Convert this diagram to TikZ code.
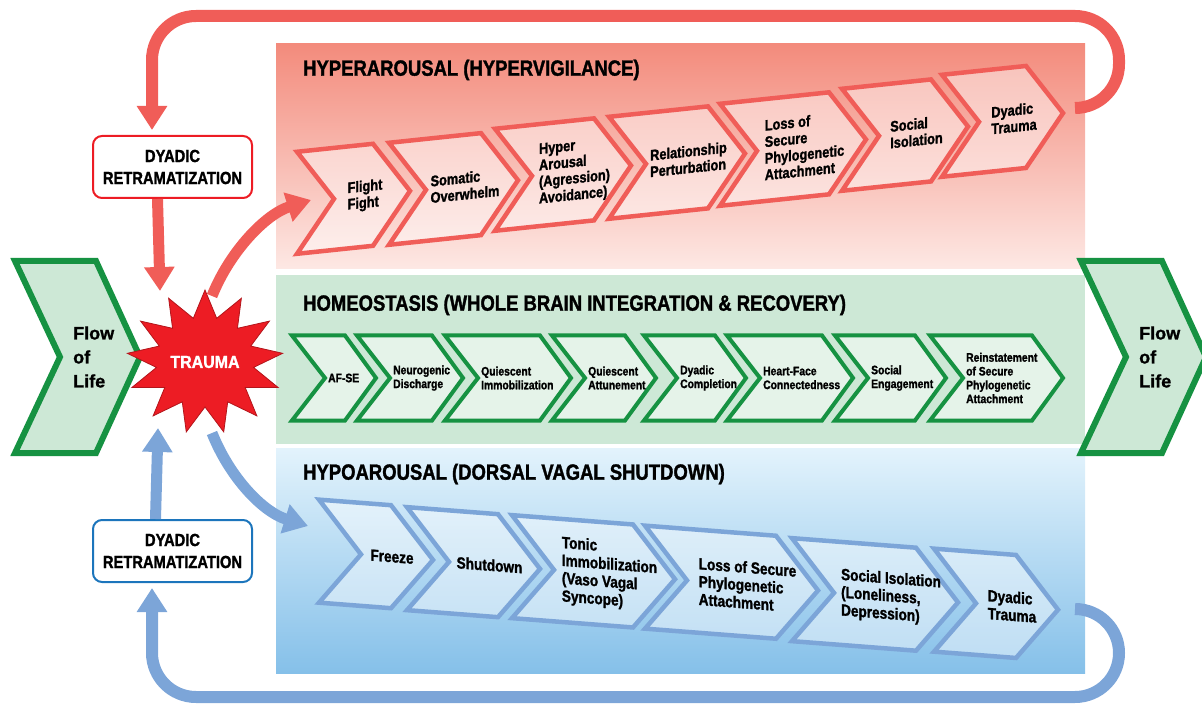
\documentclass[tikz,border=0pt]{standalone}
\usepackage{fontspec}
\setmainfont{Liberation Sans}
\newfontfamily\narrowfont{Liberation Sans}[UprightFont={* Bold}, FakeStretch=0.84, FakeBold=1.4]
\newfontfamily\flowfont{Liberation Sans}[UprightFont={* Bold}, FakeBold=1.2]
\usetikzlibrary{arrows.meta,shapes.geometric}

\definecolor{hyperred}{RGB}{240,93,88}
\definecolor{hypertop}{RGB}{243,139,124}
\definecolor{hyperbot}{RGB}{253,232,228}
\definecolor{homeogreen}{RGB}{22,146,66}
\definecolor{homeoband}{RGB}{205,232,214}
\definecolor{homeofill}{RGB}{229,243,233}
\definecolor{hypoblue}{RGB}{124,165,216}
\definecolor{hypotop}{RGB}{227,243,252}
\definecolor{hypobot}{RGB}{133,192,233}
\definecolor{traumared}{RGB}{237,28,36}
\definecolor{boxblue}{RGB}{28,117,188}

\tikzset{
  bandtitle/.style={anchor=west, inner sep=0pt, font=\narrowfont\fontsize{22}{24}\selectfont},
  hyperchev/.style={draw=hyperred, line width=4.5pt, fill=white, fill opacity=0.45},
  homeochev/.style={draw=homeogreen, line width=4pt, fill=homeofill},
  hypochev/.style={draw=hypoblue, line width=4.5pt, fill=white, fill opacity=0.45},
  hypertxt/.style={align=left, inner sep=0pt, transform shape, font=\narrowfont\fontsize{15.2}{16.5}\selectfont},
  homeotxt/.style={anchor=west, align=left, inner sep=0pt, font=\narrowfont\fontsize{12.3}{13.8}\selectfont},
  hypotxt/.style={align=left, inner sep=0pt, transform shape, font=\narrowfont\fontsize{16.2}{17.8}\selectfont},
  flowchev/.style={draw=homeogreen, line width=6pt, fill=homeoband},
  flowtxt/.style={anchor=west, align=left, inner sep=0pt, font=\flowfont\fontsize{18}{24}\selectfont},
  retrabox/.style={fill=white, line width=2pt, rounded corners=9pt, minimum width=159pt, minimum height=62pt,
    align=center, inner sep=0pt, font=\narrowfont\fontsize{17.5}{22}\selectfont},
  hyperarrow/.style={draw=hyperred, line width=11pt, -{Triangle[width=29pt,length=24pt]}},
  hypoarrow/.style={draw=hypoblue, line width=11pt, -{Triangle[width=29pt,length=24pt]}},
  hyperloop/.style={hyperarrow, line width=12pt, rounded corners=44pt},
  hypoloop/.style={hypoarrow, line width=12pt, rounded corners=44pt}
}

\begin{document}
\begin{tikzpicture}[x=1pt,y=-1pt]
\useasboundingbox (0,0) rectangle (1202,708);

% three bands
\shade[top color=hypertop, bottom color=hyperbot] (276,44) rectangle (1085,269);
\fill[homeoband] (276,275) rectangle (1085,444);
\shade[top color=hypotop, bottom color=hypobot] (276,448) rectangle (1085,673);

\node[bandtitle] (hyperT) at (303,70) {HYPERAROUSAL (HYPERVIGILANCE)};
\node[bandtitle] (homeoT) at (303,305) {HOMEOSTASIS (WHOLE BRAIN INTEGRATION \& RECOVERY)};
\node[bandtitle] (hypoT) at (303,474) {HYPOAROUSAL (DORSAL VAGAL SHUTDOWN)};

% hyperarousal chain
\foreach \x/\y/\w/\nm/\txt in {
    295/203/117/hyA/{Flight\\Fight},
    387/194/133/hyB/{Somatic\\Overwhelm},
    493/180/140/hyC/{Hyper\\Arousal\\(Agression)\\Avoidance)},
    607/168/140/hyD/{Relationship\\Perturbation},
    718/155/150/hyE/{Loss of\\Secure\\Phylogenetic\\Attachment},
    840/140/130/hyF/{Social\\Isolation},
    940/126/125/hyG/{Dyadic\\Trauma}}{
  \begin{scope}[shift={(\x,\y)}, yslant=0.105]
    \filldraw[hyperchev] (2,-51) -- ({\w-39},-51) -- ({\w-2},0) -- ({\w-39},51) -- (2,51) -- (39,0) -- cycle;
    \node[hypertxt] (\nm) at ({(37+\w)/2-7},0) {\txt};
  \end{scope}
}

% homeostasis chain
\foreach \x/\w/\nm/\txt in {
    290/88/hmA/{AF-SE},
    355/110/hmB/{Neurogenic\\Discharge},
    443/130/hmC/{Quiescent\\Immobilization},
    550/108/hmD/{Quiescent\\Attunement},
    642/106/hmE/{Dyadic\\Completion},
    725/130/hmF/{Heart-Face\\Connectedness},
    833/115/hmG/{Social\\Engagement},
    928/137/hmH/{Reinstatement\\of Secure\\Phylogenetic\\Attachment}}{
  \begin{scope}[shift={(\x,378)}]
    \filldraw[homeochev] (2,-42.5) -- ({\w-33},-42.5) -- ({\w-2},0) -- ({\w-33},42.5) -- (2,42.5) -- (35,0) -- cycle;
    \node[homeotxt] (\nm) at (38,0) {\txt};
  \end{scope}
}

% hypoarousal chain
\foreach \x/\y/\w/\nm/\txt in {
    317/551/118/hoA/{Freeze},
    405/558.5/137/hoB/{Shutdown},
    510/566.5/167/hoC/{Tonic\\Immobilization\\(Vaso Vagal\\Syncope)},
    643/577/177/hoD/{Loss of Secure\\Phylogenetic\\Attachment},
    790/589.5/170/hoE/{Social Isolation\\(Loneliness,\\Depression)},
    932/600/128/hoF/{Dyadic\\Trauma}}{
  \begin{scope}[shift={(\x,\y)}, yslant=-0.077]
    \filldraw[hypochev] (2,-51.5) -- ({\w-44},-51.5) -- ({\w-2},0) -- ({\w-44},51.5) -- (2,51.5) -- (44,0) -- cycle;
    \node[hypotxt] (\nm) at ({(42+\w)/2-5},0) {\txt};
  \end{scope}
}

% flow of life, both ends
\foreach \fx/\nm in {0/flowL,1066/flowR}{
  \filldraw[flowchev] ({\fx+15},261) -- ({\fx+96},261) -- ({\fx+140},357) -- ({\fx+96},453)
    -- ({\fx+15},453) -- ({\fx+60},357) -- cycle;
  \node[flowtxt] (\nm) at ({\fx+73},357) {Flow\\of\\Life};
}

% trauma and retraumatization
\node[star, star points=13, star point ratio=1.6, minimum size=116pt, inner sep=0pt, yscale=0.92,
  fill=traumared, draw=traumared!75!black, line width=0.8pt, text=white,
  font=\narrowfont\fontsize{19}{20}\selectfont] (trauma) at (205,362) {TRAUMA};
\node[retrabox, draw=traumared] (retraA) at (172.5,167) {DYADIC\\RETRAMATIZATION};
\node[retrabox, draw=boxblue] (retraB) at (172.5,551) {DYADIC\\RETRAMATIZATION};

\coordinate (hyin) at (311,200);
\coordinate (hoin) at (308,526);
\coordinate (hyout) at (1075,108);
\coordinate (hoout) at (1075,609);

\draw[hyperarrow] ([xshift=-15pt]retraA.south) -- ([shift={(-45,-71)}]trauma.center);
\draw[hypoarrow] ([xshift=-17pt]retraB.north) -- ([shift={(-47,66)}]trauma.center);
\draw[hyperarrow] ([shift={(7,-66)}]trauma.center) .. controls +(18,-45) and +(-45,14) .. (hyin);
\draw[hypoarrow] ([shift={(7,71)}]trauma.center) .. controls +(18,45) and +(-45,-14) .. (hoin);

% feedback loops
\draw[hyperloop] (hyout) -- (1119,108) -- (1119,16) -- (152,16) -- ([shift={(-20.5,-5)}]retraA.north);
\draw[hypoloop] (hoout) -- (1119,609) -- (1119,697) -- (152,697) -- ([shift={(-20.5,5)}]retraB.south);
\end{tikzpicture}
\end{document}
